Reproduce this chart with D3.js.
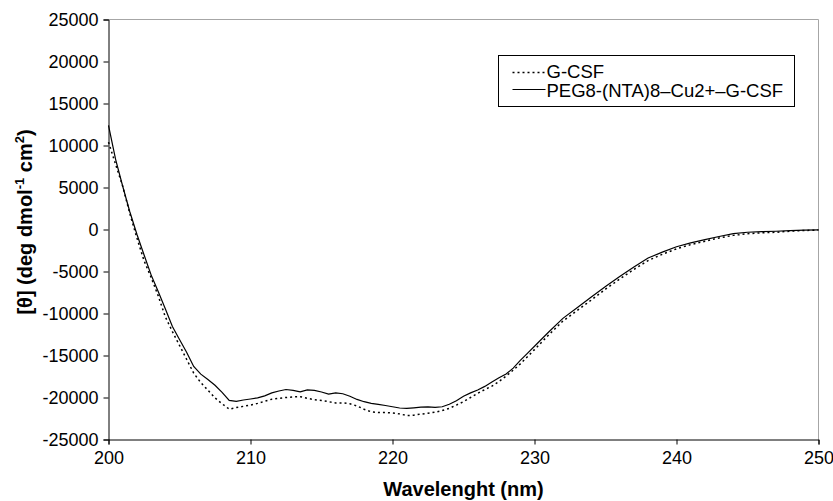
<!DOCTYPE html>
<html>
<head>
<meta charset="utf-8">
<title>CD spectra</title>
<script src="https://cdnjs.cloudflare.com/ajax/libs/d3/7.8.5/d3.min.js"></script>
<style>
  html, body { margin: 0; padding: 0; background: #fff; }
  #main_chart { width: 833px; height: 501px; }
  #main_chart text { font-family: "Liberation Sans", Arial, Helvetica, sans-serif; fill: #000; }
</style>
</head>
<body>
<div id="main_chart"></div>
<script>
// wavelength, nm (0.5 nm steps up to 230, then 1 nm)
var wavelengths = [
  200, 200.5, 201, 201.5, 202, 202.5, 203, 203.5, 204, 204.5,
  205, 205.5, 206, 206.5, 207, 207.5, 208, 208.5, 209, 209.5,
  210, 210.5, 211, 211.5, 212, 212.5, 213, 213.5, 214, 214.5,
  215, 215.5, 216, 216.5, 217, 217.5, 218, 218.5, 219, 219.5,
  220, 220.5, 221, 221.5, 222, 222.5, 223, 223.5, 224, 224.5,
  225, 225.5, 226, 226.5, 227, 227.5, 228, 228.5, 229, 229.5,
  230, 231, 232, 233, 234, 235, 236, 237, 238, 239,
  240, 241, 242, 243, 244, 245, 246, 247, 248, 249, 250
];

// G-CSF (dotted)
var gcsf = [
  10400, 7750, 5150, 1900, -1000, -3700, -5700, -7900, -10400, -12150,
  -13800, -15450, -17100, -18220, -19130, -20050, -20750, -21390, -21200, -21050,
  -20900, -20700, -20450, -20200, -20100, -20000, -19930, -19900, -20100, -20250,
  -20350, -20500, -20650, -20640, -20750, -21000, -21400, -21700, -21790, -21790,
  -21850, -21950, -22150, -22100, -21980, -21880, -21750, -21550, -21300, -20900,
  -20500, -20000, -19500, -19050, -18650, -18100, -17450, -16750, -16000, -15150,
  -14300, -12550, -10900, -9650, -8400, -7100, -5900, -4750, -3700, -2950,
  -2300, -1800, -1400, -1000, -700, -500, -400, -330, -200, -120, -60
];

// PEG8-(NTA)8-Cu2+-G-CSF (solid)
var peg = [
  12400, 8350, 5150, 2110, -570, -3000, -5400, -7390, -9440, -11545,
  -13100, -14620, -16310, -17220, -17860, -18550, -19380, -20350, -20450, -20300,
  -20180, -20050, -19800, -19450, -19230, -19050, -19150, -19330, -19100, -19150,
  -19350, -19600, -19450, -19550, -19850, -20230, -20500, -20700, -20820, -20950,
  -21100, -21250, -21300, -21230, -21150, -21120, -21170, -21100, -20800, -20380,
  -19850, -19450, -19100, -18680, -18150, -17650, -17200, -16500, -15580, -14740,
  -13900, -12200, -10580, -9310, -8040, -6780, -5600, -4450, -3400, -2700,
  -2050, -1600, -1200, -830, -500, -330, -260, -210, -130, -80, -50
];

var x_ticks = [200, 210, 220, 230, 240, 250],
  y_ticks = [-25000, -20000, -15000, -10000, -5000, 0, 5000, 10000, 15000, 20000, 25000],
  series_names = ['G-CSF', 'PEG8-(NTA)8\u2013Cu2+\u2013G-CSF'];

function initChart() {
  var margin = {top: 19.5, right: 14.5, bottom: 61.5, left: 108.5},
    width = 833 - margin.left - margin.right,
    height = 501 - margin.top - margin.bottom;

  var xScale = d3.scaleLinear().domain([200, 250]).range([0, width]);
  var yScale = d3.scaleLinear().domain([-25000, 25000]).range([height, 0]);

  var svg = d3.select('#main_chart').append('svg')
    .attr('width', 833)
    .attr('height', 501);

  var g = svg.append('g')
    .attr('transform', 'translate(' + margin.left + ',' + margin.top + ')');

  // top / right frame
  g.append('path')
    .attr('d', 'M0,0H' + width + 'V' + height)
    .attr('fill', 'none')
    .attr('stroke', '#a6a6a6');

  var xAxis = g.append('g')
    .attr('transform', 'translate(0,' + height + ')')
    .call(d3.axisBottom(xScale).tickValues(x_ticks).tickSizeOuter(0).tickSize(5).tickPadding(7));

  var yAxis = g.append('g')
    .call(d3.axisLeft(yScale).tickValues(y_ticks).tickSizeOuter(0).tickSize(5).tickPadding(5)
      .tickFormat(function (d) { return String(d); }));

  [xAxis, yAxis].forEach(function (ax) {
    ax.select('.domain').attr('stroke', '#000');
    ax.selectAll('.tick line').attr('stroke', '#000');
    ax.selectAll('.tick text').style('font-size', '18px').attr('fill', '#000');
  });

  var line = d3.line()
    .x(function (d, i) { return xScale(wavelengths[i]); })
    .y(function (d) { return yScale(d); });

  g.append('path')
    .datum(gcsf)
    .attr('fill', 'none')
    .attr('stroke', '#000')
    .attr('stroke-width', 1.5)
    .attr('stroke-dasharray', '2,3')
    .attr('d', line);

  g.append('path')
    .datum(peg)
    .attr('fill', 'none')
    .attr('stroke', '#000')
    .attr('stroke-width', 1.2)
    .attr('d', line);

  // axis titles
  svg.append('text')
    .attr('x', margin.left + width / 2)
    .attr('y', 496)
    .attr('text-anchor', 'middle')
    .style('font-size', '20px')
    .style('font-weight', 'bold')
    .text('Wavelenght (nm)');

  var yt = svg.append('text')
    .attr('transform', 'translate(32,222) rotate(-90)')
    .attr('text-anchor', 'middle')
    .style('font-size', '20px')
    .style('font-weight', 'bold');
  yt.append('tspan').text('[\u03b8] (deg dmol');
  yt.append('tspan').attr('dy', -8).style('font-size', '13px').text('-1');
  yt.append('tspan').attr('dy', 8).text(' cm');
  yt.append('tspan').attr('dy', -8).style('font-size', '13px').text('2');
  yt.append('tspan').attr('dy', 8).text(')');

  // legend
  var legend = svg.append('g').attr('transform', 'translate(498.5,55.5)');
  legend.append('rect')
    .attr('width', 296)
    .attr('height', 51)
    .attr('fill', '#fff')
    .attr('stroke', '#000');

  var rows = legend.selectAll('.legend_row')
    .data(series_names)
    .enter().append('g')
    .attr('class', 'legend_row')
    .attr('transform', function (d, i) { return 'translate(0,' + (16 + i * 19) + ')'; });

  rows.append('line')
    .attr('x1', 14).attr('x2', 47)
    .attr('y1', function (d, i) { return i === 0 ? 1 : -1; })
    .attr('y2', function (d, i) { return i === 0 ? 1 : -1; })
    .attr('stroke', '#000')
    .attr('stroke-width', function (d, i) { return i === 0 ? 1.5 : 1.2; })
    .attr('stroke-dasharray', function (d, i) { return i === 0 ? '2,3' : null; });

  rows.append('text')
    .attr('x', 48)
    .attr('y', 0)
    .attr('dy', '0.35em')
    .style('font-size', '18.5px')
    .text(function (d) { return d; });
}

initChart();
</script>
</body>
</html>
